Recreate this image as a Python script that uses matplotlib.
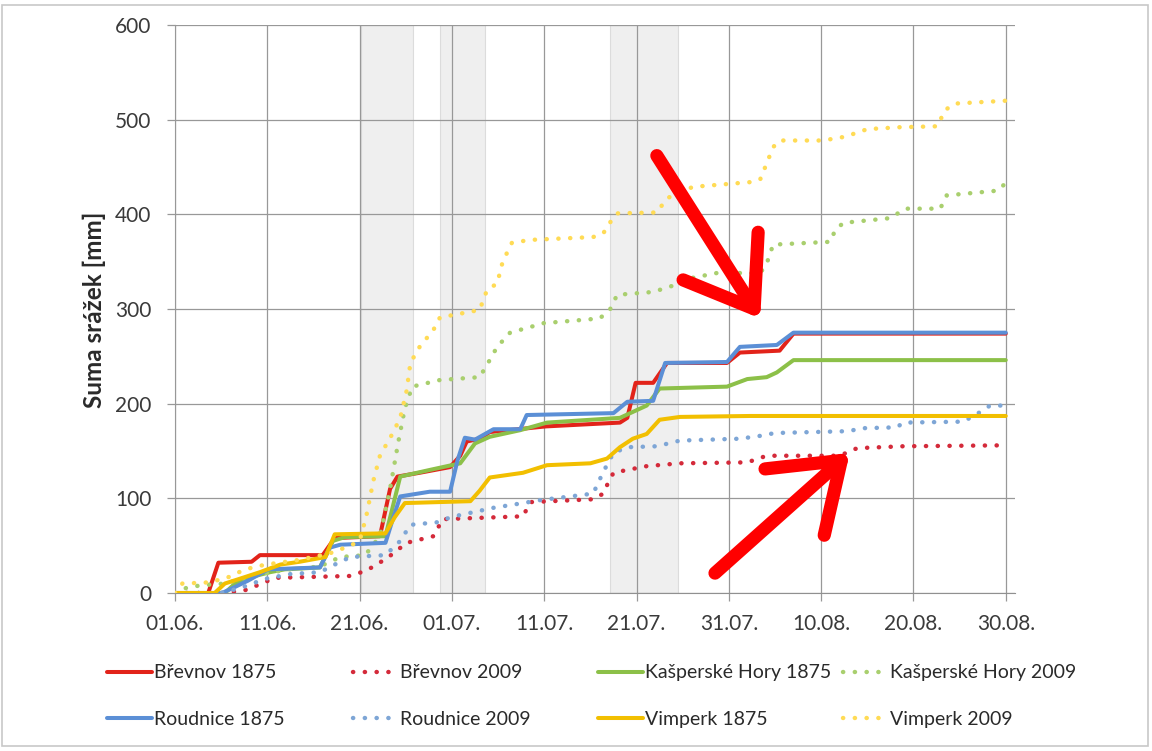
import matplotlib
matplotlib.use("Agg")
import matplotlib.pyplot as plt
from matplotlib.patches import Rectangle

plt.rcParams['font.family'] = ['Lato', 'DejaVu Sans']

# ---- data (day index: 0 = 01.06., 90 = 30.08.) ----
tick_days = [0, 10, 20, 30, 40, 50, 60, 70, 80, 90]
tick_labels = ["01.06.", "11.06.", "21.06.", "01.07.", "11.07.", "21.07.",
               "31.07.", "10.08.", "20.08.", "30.08."]

shade_start = [20.2, 28.7, 47.1]
shade_end = [25.8, 33.6, 54.5]

brevnov_1875_d = [0, 3.6, 4.7, 8.3, 9.2, 16.0, 17.3, 22.2, 23.3, 24.1, 26.5, 29.8, 30.9, 31.6, 33.0, 34.1,
                  40.2, 48.2, 49.0, 49.9, 51.8, 53.3, 59.8, 61.2, 65.5, 67.0, 90]
brevnov_1875_v = [0, 0, 32, 33, 40, 40, 58, 60, 110, 123, 127, 133, 145, 160, 163, 170,
                  176, 180, 185, 222, 222, 243, 243, 254, 256, 274, 274]

brevnov_2009_d = [0, 5.4, 7.6, 9.4, 10.8, 19.0, 20.8, 23.0, 25.1, 28.0, 29.0, 37.7, 38.5, 45.3, 46.4, 46.9,
                  47.5, 49.0, 51.1, 54.7, 62.0, 64.1, 72.0, 73.9, 78.9, 90]
brevnov_2009_v = [0, 0, 3, 10, 16, 18, 24, 37, 53, 60, 78, 81, 96, 99, 105, 116,
                  127, 130, 134, 137, 138, 145, 145, 153, 155, 156]

kasperske_1875_d = [0, 5.4, 6.5, 8.7, 10.3, 11.9, 15.7, 17.1, 18.4, 22.8, 24.4, 27.6, 30.9, 32.5, 34.1,
                    37.4, 40.3, 48.2, 51.1, 52.5, 59.8, 62.0, 64.1, 65.2, 67.0, 90]
kasperske_1875_v = [0, 0, 10, 18, 22, 25, 27, 55, 59, 60, 123, 130, 137, 158, 165,
                    172, 180, 185, 198, 216, 218, 226, 228, 233, 246, 246]

kasperske_2009_d = [0, 1.1, 2.7, 5.4, 9.2, 12.5, 15.7, 17.9, 20.6, 22.2, 23.3, 24.2, 24.9, 25.7, 28.7,
                    33.0, 33.8, 34.9, 36.3, 38.5, 39.9, 46.0, 47.1, 47.9, 51.8, 54.7, 56.1, 58.7,
                    63.4, 64.1, 64.8, 71.0, 71.5, 72.4, 77.5, 79.1, 82.9, 83.6, 89.1, 90]
kasperske_2009_v = [0, 5, 8, 10, 20, 25, 28, 38, 40, 60, 110, 160, 195, 218, 225,
                    228, 241, 260, 275, 281, 285, 290, 299, 315, 318, 327, 333, 338,
                    338, 348, 368, 371, 383, 391, 396, 406, 406, 420, 425, 433]

roudnice_1875_d = [0, 5.1, 6.2, 7.9, 10.1, 15.7, 16.8, 17.9, 22.8, 23.5, 24.4, 27.6, 29.8, 30.6, 31.4,
                   32.5, 34.5, 37.4, 38.1, 47.5, 49.0, 51.8, 53.1, 59.8, 61.2, 65.2, 67.0, 90]
roudnice_1875_v = [0, 0, 5, 13, 25, 27, 48, 51, 53, 75, 102, 107, 107, 140, 164,
                   162, 173, 173, 188, 190, 202, 203, 243, 244, 260, 262, 275, 275]

roudnice_2009_d = [0, 4.9, 7.0, 9.8, 12.5, 15.7, 17.3, 19.0, 22.8, 24.4, 25.5, 28.7, 29.8, 34.5, 37.7,
                   39.5, 45.3, 46.4, 47.5, 49.0, 52.2, 54.7, 61.2, 63.4, 65.0, 73.1, 74.2, 78.2,
                   78.9, 85.4, 87.2, 88.3, 90]
roudnice_2009_v = [0, 0, 5, 15, 20, 22, 30, 38, 40, 55, 72, 75, 80, 90, 95,
                   98, 105, 128, 148, 154, 155, 161, 163, 166, 169, 171, 174, 175,
                   180, 181, 191, 198, 198]

vimperk_1875_d = [0, 4.3, 5.4, 7.0, 9.2, 11.4, 13.5, 16.3, 17.3, 22.8, 23.8, 24.9, 32.0, 33.0, 34.1,
                  37.7, 40.3, 45.0, 46.8, 48.2, 49.6, 51.1, 52.5, 54.7, 62.3, 90]
vimperk_1875_v = [0, 0, 10, 15, 22, 30, 33, 38, 62, 63, 80, 95, 97, 108, 122,
                  127, 135, 137, 142, 154, 163, 168, 183, 186, 187, 187]

vimperk_2009_d = [0, 0.8, 3.3, 5.4, 7.6, 9.8, 13.5, 16.8, 19.0, 20.0, 20.7, 21.5, 22.2, 23.6, 24.4,
                  25.1, 25.5, 26.5, 28.0, 28.7, 33.0, 33.8, 34.9, 35.5, 36.5, 38.5, 45.3, 46.4,
                  47.1, 47.9, 52.2, 53.3, 56.1, 62.3, 63.4, 63.9, 64.8, 65.5, 70.2, 72.6, 75.0,
                  78.5, 82.6, 83.4, 84.5, 90]
vimperk_2009_v = [0, 10, 11, 15, 25, 30, 35, 42, 50, 55, 80, 119, 145, 169, 185,
                  214, 243, 260, 278, 291, 299, 320, 327, 350, 370, 373, 376, 380,
                  391, 401, 402, 417, 429, 434, 437, 449, 471, 478, 478, 482, 490,
                  492, 493, 510, 517, 520]

series_labels = ["Břevnov 1875", "Břevnov 2009", "Kašperské Hory 1875", "Kašperské Hory 2009",
                 "Roudnice 1875", "Roudnice 2009", "Vimperk 1875", "Vimperk 2009"]

# arrows (data coordinates: tail -> tip)
arrow_tail = [(52.2, 462), (58.5, 21)]
arrow_tip = [(63.4, 290), (73.1, 148)]

# ---- styling ----
colors = ["#E2231A", "#D42A3A", "#8CC048", "#A9CF6E", "#5B8FD6", "#7EA6D6", "#F2BF00", "#FFDB55"]
solid = [True, False, True, False, True, False, True, False]
dot_style = (0, (0.05, 2.6))

fig = plt.figure(figsize=(11.52, 7.51), dpi=100)
ax = fig.add_axes([175 / 1152, 1 - 593 / 751, 840 / 1152, 568 / 751])

for s, e in zip(shade_start, shade_end):
    ax.axvspan(s, e, facecolor="#EFEFEF", edgecolor="#DCDCDC", lw=0.8, zorder=0)

data = [(brevnov_1875_d, brevnov_1875_v), (brevnov_2009_d, brevnov_2009_v),
        (kasperske_1875_d, kasperske_1875_v), (kasperske_2009_d, kasperske_2009_v),
        (roudnice_1875_d, roudnice_1875_v), (roudnice_2009_d, roudnice_2009_v),
        (vimperk_1875_d, vimperk_1875_v), (vimperk_2009_d, vimperk_2009_v)]

handles = []
for (d, v), c, sol, lab in zip(data, colors, solid, series_labels):
    if sol:
        ln, = ax.plot(d, v, color=c, lw=2.9, solid_capstyle="round", solid_joinstyle="round",
                      label=lab, zorder=3)
    else:
        ln, = ax.plot(d, v, color=c, lw=3.2, linestyle=dot_style, dash_capstyle="round",
                      label=lab, zorder=3)
    handles.append(ln)

for (tx, ty), (hx, hy) in zip(arrow_tail, arrow_tip):
    ax.annotate("", xy=(hx, hy), xytext=(tx, ty),
                arrowprops=dict(arrowstyle="->,head_length=0.45,head_width=0.32",
                                mutation_scale=100, color="#FF0000", lw=9.5,
                                shrinkA=0, shrinkB=0, capstyle="round", joinstyle="round"),
                zorder=6, annotation_clip=False)

ax.set_xlim(0, 91)
ax.set_ylim(0, 600)
ax.set_xticks(tick_days)
ax.set_xticklabels(tick_labels)
ax.set_yticks(range(0, 601, 100))
ax.grid(True, color="#989898", lw=0.9, zorder=1)
ax.set_axisbelow(True)
for sp in ["top", "right"]:
    ax.spines[sp].set_visible(False)
ax.spines["left"].set_color("#989898")
ax.spines["bottom"].set_color("#909090")
ax.tick_params(axis="both", length=6, width=0.9, color="#989898", labelsize=15, labelcolor="#3A3A3A")
ax.tick_params(axis="x", pad=9)
ax.tick_params(axis="y", pad=11)

fig.text(94 / 1152, 1 - 310 / 751, "Suma srážek [mm]", rotation=90, ha="center", va="center",
         fontsize=17.5, fontweight="bold", color="#2A2A2A")

# legend: four columns, two rows
col_x = [107, 353, 598, 843]
row_y = 1 - 696 / 751
order = [[0, 4], [1, 5], [2, 6], [3, 7]]
for ci, idx in enumerate(order):
    fig.legend([handles[i] for i in idx], [series_labels[i] for i in idx],
               loc="center left", bbox_to_anchor=(col_x[ci] / 1152, row_y),
               frameon=False, fontsize=14, handlelength=2.3, handletextpad=0.1,
               borderpad=0, borderaxespad=0, labelspacing=1.5, labelcolor="#2A2A2A")

fig.patches.append(Rectangle((2 / 1152, 5 / 751), 1146 / 1152, 741 / 751, transform=fig.transFigure,
                             fill=False, edgecolor="#C8C8C8", lw=1.2))

fig.savefig("out.png", dpi=100)
